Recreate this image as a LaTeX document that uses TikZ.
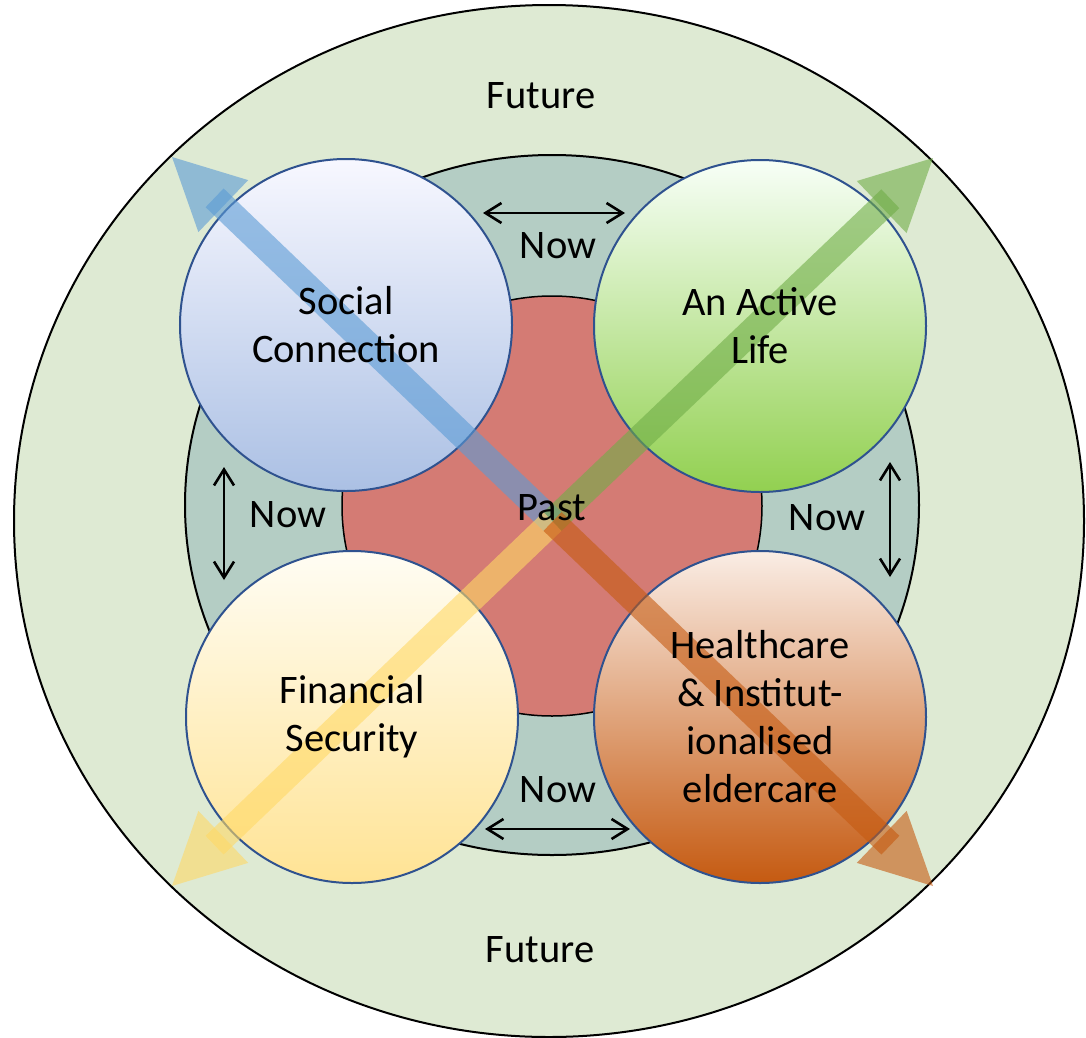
\documentclass[tikz,border=0pt]{standalone}
\usepackage{fontspec}
\setmainfont{Carlito}
\usetikzlibrary{calc,arrows.meta}

\definecolor{futuregreen}{HTML}{DEEAD3}
\definecolor{nowteal}{HTML}{B4CDC4}
\definecolor{pastred}{HTML}{D47B74}
\definecolor{rimblue}{HTML}{2F528F}
\definecolor{arrblue}{HTML}{5B9BD5}
\definecolor{arrgreen}{HTML}{70AD47}
\definecolor{arryellow}{HTML}{FFD966}
\definecolor{arrorange}{HTML}{C55A11}

\tikzset{
    lbl/.style={font=\fontsize{40.5bp}{48bp}\selectfont, align=center, inner sep=0pt},
    ring/.style={draw=black, line width=2bp},
    theme/.style={circle, minimum size=332bp, inner sep=0pt, draw=rimblue, line width=2bp},
    nowarrow/.style={<->, >={Straight Barb[length=16bp,width=20bp]}, line width=2.6bp},
    shaft/.style={line width=26bp, opacity=.6},
}

\begin{document}
\begin{tikzpicture}[x=1bp,y=-1bp]
    \useasboundingbox (0,0) rectangle (1086,1038);

    % future, now, past
    \draw[ring, fill=futuregreen] (549,521) ellipse [x radius=535, y radius=516];
    \draw[ring, fill=nowteal] (552,505) ellipse [x radius=367, y radius=350];
    \draw[ring, line width=1.5bp, fill=pastred] (552,506) circle [radius=210];

    \node[theme, top color=blue!3!white, bottom color={rgb,255:red,171;green,192;blue,228}] (social) at (346,325) {};
    \node[theme, top color=green!3!white, bottom color={rgb,255:red,146;green,208;blue,80}] (active) at (760,326) {};
    \node[theme, top color={rgb,255:red,255;green,253;blue,244}, bottom color={rgb,255:red,255;green,227;blue,148}] (finance) at (352,717) {};
    \node[theme, top color={rgb,255:red,250;green,237;blue,229}, bottom color={rgb,255:red,197;green,90;blue,17}] (health) at (760,717) {};

    \coordinate (ctr) at (552.5,521.5);
    \foreach \nm/\clr/\tx/\ty in {tl/arrblue/172/157, tr/arrgreen/933/158, bl/arryellow/172/886, br/arrorange/933/886}{
        \coordinate (\nm tip)  at (\tx,\ty);
        \coordinate (\nm end)  at ($(\nm tip)!59bp!(ctr)$);
        \coordinate (\nm base) at ($(\nm tip)!71bp!(ctr)$);
        \draw[shaft, draw=\clr] (ctr) -- (\nm end);
        \fill[\clr, opacity=.6] (\nm tip) -- ($(\nm base)!36bp!90:(\nm tip)$) -- ($(\nm base)!36bp!-90:(\nm tip)$) -- cycle;
    }

    \foreach \nm/\ax/\ay/\bx/\by in {top/483/213/625/213, left/224/467/224/580, right/890/462/890/577, bottom/485/829/630/829}{
        \coordinate (\nm a) at (\ax,\ay);
        \coordinate (\nm b) at (\bx,\by);
        \draw[nowarrow] (\nm a) -- (\nm b);
    }

    \node[lbl, anchor=base] (futuretop) at (541,108) {Future};
    \node[lbl, anchor=base] (futurebot) at (540,962) {Future};
    \node[lbl, anchor=base] (nowtop)    at (558,258) {Now};
    \node[lbl, anchor=base] (nowleft)   at (288,527) {Now};
    \node[lbl, anchor=base] (nowright)  at (827,530) {Now};
    \node[lbl, anchor=base] (nowbot)    at (558,802) {Now};
    \node[lbl, anchor=base] (past)      at (552,520) {Past};

    \node[lbl] (socialtxt)  at (social)  {Social\\Connection};
    \node[lbl] (activetxt)  at (active)  {An Active\\Life};
    \node[lbl] (financetxt) at (finance) {Financial\\Security};
    \node[lbl] (healthtxt)  at (health)  {Healthcare\\\& Institut-\\ionalised\\eldercare};
\end{tikzpicture}
\end{document}
